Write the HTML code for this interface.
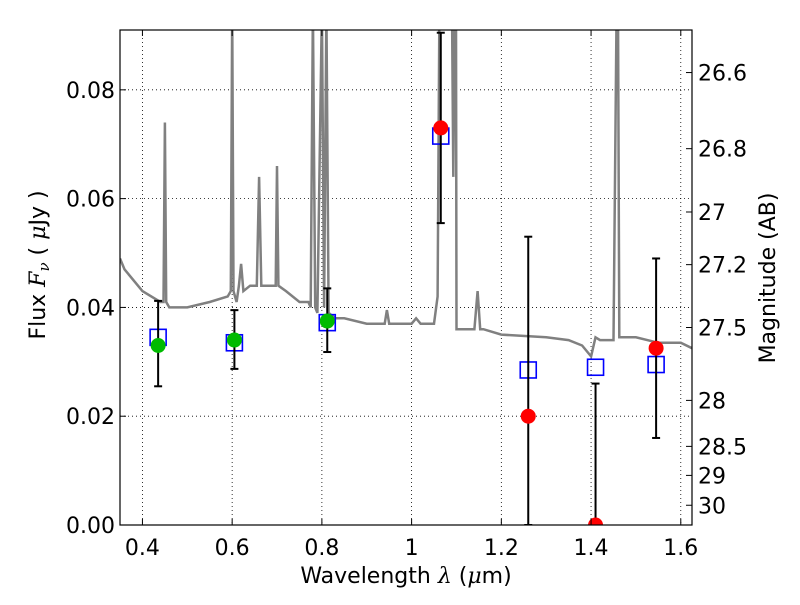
<!DOCTYPE html>
<html><head><meta charset="utf-8">
<style>
body{margin:0;background:#fff;}
svg text{font-family:"DejaVu Sans","Liberation Sans",sans-serif;font-size:22px;fill:#000;}
.m{font-family:"DejaVu Serif","Liberation Serif",serif;font-style:italic;}
</style></head>
<body>
<svg id="chart" width="800" height="600" xmlns="http://www.w3.org/2000/svg">
<rect width="800" height="600" fill="#fff"/>
<g id="grid"></g>
<g id="spec"></g>
<g id="marks"></g>
<rect x="120" y="30" width="572" height="495" fill="none" stroke="#000" stroke-width="1.2"/>
<g id="axes"></g>
<text x="406" y="583" text-anchor="middle">Wavelength  <tspan class="m">λ</tspan> (<tspan class="m">μ</tspan>m)</text>
<text transform="translate(45,265) rotate(-90)" text-anchor="middle">Flux  <tspan class="m">F</tspan><tspan class="m" font-size="15" dy="4">ν</tspan><tspan dy="-4">  (  </tspan><tspan class="m">μ</tspan>Jy )</text>
<text transform="translate(775,278) rotate(-90)" text-anchor="middle">Magnitude (AB)</text>
</svg>
<script>
const xTicks=[0.4,0.6,0.8,1.0,1.2,1.4,1.6];
const xTickLabels=["0.4","0.6","0.8","1","1.2","1.4","1.6"];
const yTicks=[0,0.02,0.04,0.06,0.08];
const yTickLabels=["0.00","0.02","0.04","0.06","0.08"];
const magTicks=[26.6,26.8,27,27.2,27.5,28,28.5,29,30];
const magTickLabels=["26.6","26.8","27","27.2","27.5","28","28.5","29","30"];
const specWave=[0.35,0.36,0.40,0.44,0.447,0.45,0.453,0.46,0.50,0.55,0.59,0.597,0.60,0.603,0.61,0.615,0.62,0.625,0.64,0.655,0.66,0.665,0.69,0.697,0.70,0.703,0.72,0.75,0.77,0.775,0.78,0.785,0.79,0.80,0.805,0.81,0.815,0.83,0.85,0.90,0.94,0.945,0.95,1.0,1.01,1.02,1.05,1.058,1.062,1.066,1.09,1.093,1.096,1.099,1.10,1.14,1.147,1.153,1.16,1.2,1.3,1.35,1.38,1.40,1.41,1.42,1.45,1.457,1.46,1.463,1.47,1.5,1.55,1.6,1.625];
const specFlux=[0.049,0.047,0.043,0.041,0.041,0.074,0.041,0.040,0.040,0.041,0.042,0.043,0.095,0.043,0.041,0.044,0.048,0.043,0.044,0.044,0.064,0.044,0.044,0.044,0.066,0.044,0.043,0.041,0.041,0.040,0.095,0.040,0.039,0.095,0.040,0.095,0.039,0.038,0.038,0.037,0.037,0.0395,0.037,0.037,0.038,0.037,0.037,0.042,0.095,0.095,0.095,0.064,0.095,0.095,0.036,0.036,0.043,0.036,0.036,0.035,0.0345,0.034,0.033,0.031,0.0345,0.034,0.034,0.095,0.095,0.0345,0.0345,0.0345,0.0335,0.0335,0.0325];
const bandWave=[0.435,0.605,0.812,1.065,1.26,1.41,1.545];
const modelFlux=[0.0345,0.0335,0.0372,0.0715,0.0285,0.029,0.0295];
const obsFlux=[0.033,0.034,0.0375,0.073,0.020,0.0,0.0325];
const errLow=[0.0255,0.0287,0.0318,0.0555,0.0,0.0,0.016];
const errHigh=[0.0412,0.0395,0.0435,0.0905,0.053,0.026,0.049];
const detected=[true,true,true,false,false,false,false];

const X0=120,X1=692,Y0=525,Y1=30,xmin=0.35,xmax=1.625,ymin=0,ymax=0.091;
const sx=v=>X0+(v-xmin)/(xmax-xmin)*(X1-X0);
const sy=v=>Y0-(v-ymin)/(ymax-ymin)*(Y0-Y1);
const magToFlux=m=>Math.pow(10,(23.9-m)/2.5);
const NS="http://www.w3.org/2000/svg";
function mk(tag,attrs,parent){const e=document.createElementNS(NS,tag);for(const k in attrs)e.setAttribute(k,attrs[k]);parent.appendChild(e);return e;}
const grid=document.getElementById('grid'),axes=document.getElementById('axes'),spec=document.getElementById('spec'),marks=document.getElementById('marks');
xTicks.forEach((t,i)=>{const x=sx(t);
 const g=mk('line',{x1:x,x2:x,y1:Y1,y2:Y0,stroke:'#000','stroke-dasharray':'1,3','stroke-width':0.8},grid);
 
 mk('line',{x1:x,x2:x,y1:Y0,y2:Y0-6,stroke:'#000'},axes);mk('line',{x1:x,x2:x,y1:Y1,y2:Y1+6,stroke:'#000'},axes);
 const tx=mk('text',{x:x,y:Y0+30,'text-anchor':'middle'},axes);tx.textContent=xTickLabels[i];
 });
yTicks.forEach((t,i)=>{const y=sy(t);
 const g=mk('line',{x1:X0,x2:X1,y1:y,y2:y,stroke:'#000','stroke-dasharray':'1,3','stroke-width':0.8},grid);
 
 mk('line',{x1:X0,x2:X0+6,y1:y,y2:y,stroke:'#000'},axes);
 const tx=mk('text',{x:X0-5,y:y+8,'text-anchor':'end'},axes);tx.textContent=yTickLabels[i];
 });
magTicks.forEach((m,i)=>{const y=sy(magToFlux(m));
 mk('line',{x1:X1,x2:X1-6,y1:y,y2:y,stroke:'#000'},axes);
 const tx=mk('text',{x:X1+6,y:y+8,'text-anchor':'start'},axes);tx.textContent=magTickLabels[i];
 });
const cp=mk('clipPath',{id:'clip'},spec);mk('rect',{x:X0,y:Y1,width:X1-X0,height:Y0-Y1},cp);
const pts=specWave.map((w,i)=>sx(w).toFixed(1)+','+sy(specFlux[i]).toFixed(1)).join(' ');
const pl=mk('polyline',{points:pts,fill:'none',stroke:'#808080','stroke-width':2.5,'clip-path':'url(#clip)'},spec);

bandWave.forEach((w,i)=>{const x=sx(w),y=sy(modelFlux[i]);
 const r=mk('rect',{x:x-8,y:y-8,width:16,height:16,fill:'none',stroke:'#0000ff','stroke-width':1.6},marks);
 });
bandWave.forEach((w,i)=>{const x=sx(w),yl=sy(errLow[i]),yh=sy(errHigh[i]);
 const e=mk('g',{'clip-path':'url(#clip)'},marks);
 
 mk('line',{x1:x,x2:x,y1:yl,y2:yh,stroke:'#000','stroke-width':2},e);
 mk('line',{x1:x-4,x2:x+4,y1:yh,y2:yh,stroke:'#000','stroke-width':2},e);
 mk('line',{x1:x-4,x2:x+4,y1:yl,y2:yl,stroke:'#000','stroke-width':2},e);
 const c=mk('circle',{cx:x,cy:sy(obsFlux[i]),r:7.5,fill:detected[i]?'#00bb00':'#ff0000','clip-path':'url(#clip)'},marks);
 });
</script>
</body></html>
